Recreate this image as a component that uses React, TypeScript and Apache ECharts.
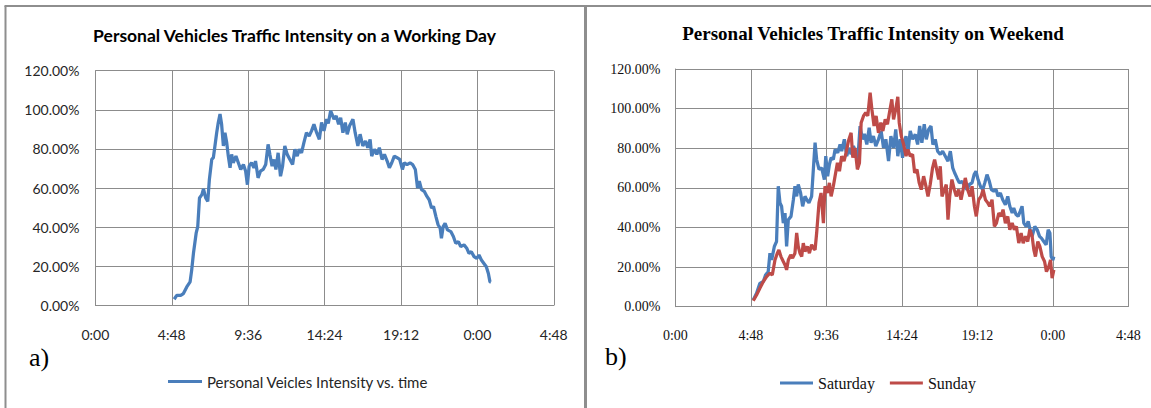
import React, { useEffect, useRef } from "react";
import * as echarts from "echarts";

// ---- Data (hours since 0:00, intensity in %) ----
const workTimes = [
  4.95, 5.11, 5.36, 5.53, 5.74, 5.95, 6.05, 6.16, 6.33, 6.43, 6.54, 6.69, 6.79, 6.93, 7.06, 7.16, 7.31, 7.41,
  7.51, 7.62, 7.72, 7.83, 7.93, 8.04, 8.14, 8.25, 8.35, 8.46, 8.56, 8.66, 8.83, 8.98, 9.13, 9.3, 9.44, 9.55,
  9.66, 9.81, 9.96, 10.06, 10.22, 10.37, 10.54, 10.7, 10.85, 10.96, 11.1, 11.23, 11.34, 11.48, 11.63, 11.76,
  11.9, 12.05, 12.22, 12.39, 12.53, 12.68, 12.81, 12.95, 13.1, 13.26, 13.43, 13.58, 13.73, 13.9, 14.07, 14.21,
  14.36, 14.53, 14.63, 14.78, 14.99, 15.13, 15.28, 15.41, 15.55, 15.7, 15.82, 15.97, 16.18, 16.32, 16.49,
  16.63, 16.8, 16.97, 17.11, 17.26, 17.36, 17.53, 17.68, 17.84, 18.01, 18.16, 18.33, 18.47, 18.62, 18.78,
  18.95, 19.12, 19.29, 19.41, 19.58, 19.77, 19.93, 20.1, 20.24, 20.35, 20.49, 20.66, 20.83, 20.97, 21.12,
  21.24, 21.39, 21.53, 21.66, 21.74, 21.85, 21.97, 22.12, 22.33, 22.49, 22.64, 22.81, 22.95, 23.16, 23.33,
  23.47, 23.62, 23.79, 23.96, 24.1, 24.25, 24.41, 24.56, 24.69, 24.79, 24.85,
];
const workValues = [
  3.1, 5.1, 5.1, 6, 9.4, 12, 18, 26.6, 36.9, 40.3, 54.9, 56.6, 59.5, 54.9, 53.2, 64.3, 74.6, 75.5,
  81.5, 88.3, 93.5, 97.8, 92.6, 81.5, 88.3, 83.2, 76.3, 70.3, 77.2, 72.9, 76.3, 72.9, 69.5, 72, 68.6, 61.7,
  71.2, 72.9, 70.3, 73.8, 65.2, 68.6, 69.5, 72, 82.3, 77.2, 71.2, 74.6, 69.5, 78, 66, 71.2,
  81.5, 77.2, 74.6, 72, 79.8, 76.3, 79.8, 78, 83.2, 88.3, 86.6, 89.2, 92.6, 88.3, 84.9, 93.5,
  89.2, 95.2, 93, 99.5, 95.2, 96.9, 92.6, 96, 88.3, 93.5, 87.5, 91.8, 95.2, 88.3, 81.5,
  87.5, 81.5, 84, 80.6, 84.9, 76.3, 79.8, 77.2, 80.6, 74.6, 77.2, 73.8, 70.3, 72.9, 76.3,
  75.5, 74.6, 69.5, 72.9, 72, 72.9, 72, 69.5, 60, 63.5, 59.2, 58.3, 55.7, 54, 49.7,
  50.6, 45.5, 41.2, 39.5, 34.3, 40.3, 42, 38.6, 37.7, 35.2, 31.7, 32.6, 30, 30.9, 29.2,
  26.6, 27.4, 24.9, 24, 25.7, 23.2, 21.4, 19.7, 16.3, 12, 11.8,
];

const satTimes = [
  4.95, 5.16, 5.37, 5.59, 5.73, 5.9, 6.01, 6.12, 6.29, 6.43, 6.54, 6.65, 6.75, 6.86, 6.97, 7.07, 7.18, 7.35,
  7.5, 7.6, 7.71, 7.81, 7.96, 8.09, 8.24, 8.35, 8.49, 8.66, 8.77, 8.88, 8.98, 9.13, 9.3, 9.47, 9.56, 9.68,
  9.79, 9.9, 10.04, 10.15, 10.32, 10.47, 10.57, 10.74, 10.89, 11.04, 11.17, 11.32, 11.47, 11.59, 11.74, 11.89,
  12.02, 12.17, 12.32, 12.44, 12.59, 12.74, 12.91, 13.08, 13.23, 13.38, 13.55, 13.7, 13.87, 14.01, 14.14,
  14.29, 14.44, 14.51, 14.66, 14.78, 14.93, 15.08, 15.25, 15.4, 15.53, 15.67, 15.82, 15.95, 16.1, 16.25,
  16.37, 16.52, 16.67, 16.84, 16.99, 17.16, 17.33, 17.48, 17.63, 17.75, 17.9, 18.05, 18.22, 18.39, 18.54,
  18.69, 18.86, 18.99, 19.11, 19.24, 19.39, 19.54, 19.67, 19.81, 19.96, 20.09, 20.24, 20.39, 20.51, 20.66,
  20.81, 20.98, 21.13, 21.26, 21.41, 21.51, 21.66, 21.79, 21.92, 22.04, 22.15, 22.3, 22.43, 22.55, 22.68,
  22.85, 23.0, 23.15, 23.27, 23.42, 23.57, 23.7, 23.81, 23.89, 24.0, 24.06,
];
const satValues = [
  3.4, 6.8, 11.8, 12.7, 16, 17.7, 27, 23.6, 30.4, 32.9, 60.8, 52.4, 50.7, 42.2, 47.3, 30.4, 43.9, 45.6,
  54, 60.8, 55.7, 61.7, 57.4, 50.7, 55.7, 54, 52.4, 55.7, 69.3, 82.8, 74.3, 69.3, 70.1, 64.2, 76, 65.9,
  71.8, 75.2, 74.3, 79.4, 77.7, 81.9, 78.5, 84.5, 76, 80.2, 76.9, 81.1, 77.7, 73.5, 91.2, 84.5,
  87.2, 81.9, 90.4, 82.8, 86.1, 81.1, 84.5, 88.7, 80.2, 84.5, 73.5, 86.1, 80.2, 89.5, 76,
  84.5, 75.2, 81.1, 86.1, 77.7, 88.7, 84.5, 87, 81.9, 91.2, 82.8, 92.1, 84.5, 89.5, 91.2,
  81.9, 84.5, 78.5, 76.9, 78.5, 76, 73.5, 78.5, 70.1, 67.6, 65, 62.5, 63.3, 60.8, 59.1,
  61.7, 62.5, 66.7, 68.4, 64.2, 60.8, 59.1, 62.5, 66.7, 63.3, 59.1, 58.3, 59.1, 55.7, 57.4,
  54, 51.5, 55.7, 50.7, 47.3, 49.8, 46.5, 45.6, 48.1, 50.7, 42.2, 40.5, 43.1, 38.9, 35.5,
  40.5, 38.9, 35.5, 34.6, 32.9, 31.3, 38.9, 37.2, 25.3, 23.6, 25.3,
];

const sunTimes = [
  4.95, 5.16, 5.37, 5.59, 5.8, 6.01, 6.16, 6.33, 6.48, 6.58, 6.71, 6.86, 6.97, 7.07, 7.18, 7.33, 7.45, 7.6,
  7.71, 7.81, 7.92, 8.03, 8.13, 8.24, 8.39, 8.52, 8.66, 8.77, 8.88, 8.98, 9.13, 9.26, 9.41, 9.51, 9.66, 9.79,
  9.9, 10.04, 10.15, 10.3, 10.43, 10.57, 10.72, 10.85, 11.0, 11.17, 11.28, 11.42, 11.57, 11.7, 11.81, 11.96,
  12.1, 12.23, 12.38, 12.49, 12.63, 12.76, 12.91, 13.06, 13.19, 13.34, 13.48, 13.61, 13.76, 13.87, 14.01,
  14.14, 14.23, 14.36, 14.51, 14.66, 14.78, 14.93, 15.08, 15.21, 15.36, 15.5, 15.63, 15.78, 15.93, 16.06,
  16.2, 16.35, 16.48, 16.61, 16.74, 16.84, 16.95, 17.1, 17.22, 17.33, 17.44, 17.58, 17.73, 17.86, 18.01,
  18.16, 18.29, 18.43, 18.58, 18.73, 18.86, 19.01, 19.13, 19.28, 19.43, 19.56, 19.71, 19.86, 19.98, 20.13,
  20.28, 20.41, 20.56, 20.71, 20.83, 20.98, 21.13, 21.26, 21.41, 21.55, 21.68, 21.83, 21.98, 22.11, 22.26,
  22.4, 22.53, 22.68, 22.79, 22.89, 23.04, 23.17, 23.32, 23.47, 23.59, 23.74, 23.85, 23.95, 24.06,
];
const sunValues = [
  3, 5.9, 9.3, 12.7, 15.2, 16.9, 16, 23.6, 27, 28.7, 25.3, 22.8, 21.1, 18.6, 23.6, 26.2, 24.5, 27,
  37.2, 30.4, 27, 25.3, 32.1, 27.9, 30.4, 27, 31.3, 29.6, 28.7, 37.2, 52.4, 57.4, 42.2, 60.8, 57.4, 62.5,
  55.7, 60.8, 65.9, 72.6, 68.4, 76, 73.5, 77.7, 83.6, 87.8, 75.2, 80.2, 69.3, 72.6, 92.9, 96.3,
  98, 96.3, 108, 99.7, 91.2, 96.3, 87.8, 92.9, 88.7, 94.6, 92.1, 98, 104.7, 94.6, 99.7,
  106, 92.9, 86.1, 81.9, 76, 79.4, 76, 76.9, 67.6, 69.3, 62.5, 59.1, 65.9, 60.8, 55.7,
  61.7, 70.1, 74.3, 69.3, 64.2, 70.9, 55.7, 59.1, 61.7, 43.9, 55.7, 64.2, 59.1, 55.7, 59.1,
  54, 59.1, 65, 59.1, 55.7, 60.8, 50.7, 45.6, 54, 55.7, 59.1, 54, 52.4, 50.7, 54,
  40.5, 42.2, 47.3, 45.6, 49, 42.2, 45.6, 38.9, 42.2, 38.9, 40.5, 32.1, 37.2, 32.1, 35.5,
  32.9, 38.9, 35.5, 28.7, 25.3, 32.9, 30.4, 25.3, 22.8, 17.7, 20.3, 23.6, 14.4, 18.6,
];

const X_MIN = 0;
const X_MAX = 28.8;
const X_STEP = 4.8;
const Y_MIN = 0;
const Y_MAX = 120;
const Y_STEP = 20;

const BLUE = "#4a7ebb";
const RED = "#be4b48";
const GRID = "#8c8c8c";
const FRAME = "#8e8e8e";
const SANS = "Lato, 'Open Sans', sans-serif";
const SERIF = "'Liberation Serif', 'Times New Roman', serif";

function fmtTime(v: number): string {
  const t = Math.round(v * 60);
  const h = Math.floor(t / 60) % 24;
  const m = t % 60;
  return h + ":" + (m < 10 ? "0" : "") + m;
}

function fmtPct(v: number): string {
  return v.toFixed(2) + "%";
}

function pairs(ts: number[], vs: number[]) {
  return ts.map((t, i) => [t, vs[i]]);
}

export default function App() {
  const ref = useRef<HTMLDivElement>(null);
  useEffect(() => {
    document.body.style.margin = "0";
    if (!ref.current) return;
    const chart = echarts.init(ref.current, null, { renderer: "svg" });
    const fonts = [
      { family: SANS, size: 14, color: "#262626" },
      { family: SERIF, size: 14, color: "#111" },
    ];
    const grids = [
      { left: 95.4, top: 70.7, width: 458.4, height: 234.6 },
      { left: 675.4, top: 69, width: 453, height: 237.7 },
    ];
    const labelStyle = (i: number, fmt: (v: number) => string, margin: number) => ({
      formatter: (v: number) => "{t|" + fmt(v) + "}",
      margin,
      fontFamily: fonts[i].family,
      fontSize: fonts[i].size,
      color: fonts[i].color,
      rich: {
        t: { fontFamily: fonts[i].family, fontSize: fonts[i].size, color: fonts[i].color },
      },
    });
    const option: any = {
      animation: false,
      grid: grids.map((g) => ({ ...g, containLabel: false, outerBoundsMode: "none" })),
      xAxis: [0, 1].map((i) => ({
        type: "value",
        gridIndex: i,
        min: X_MIN,
        max: X_MAX,
        interval: X_STEP,
        axisLine: { show: true, lineStyle: { color: GRID, width: 1 } },
        axisTick: { show: false },
        splitLine: { show: true, lineStyle: { color: GRID, width: 1 } },
        axisLabel: { ...labelStyle(i, fmtTime, 22), showMaxLabel: true, showMinLabel: true },
      })),
      yAxis: [0, 1].map((i) => ({
        type: "value",
        gridIndex: i,
        min: Y_MIN,
        max: Y_MAX,
        interval: Y_STEP,
        axisLine: { show: true, lineStyle: { color: GRID, width: 1 } },
        axisTick: { show: false },
        splitLine: { show: true, lineStyle: { color: GRID, width: 1 } },
        axisLabel: labelStyle(i, fmtPct, i === 0 ? 16 : 15),
      })),
      legend: [
        {
          data: ["Personal Veicles Intensity vs. time"],
          left: 168,
          top: 374,
          padding: 0,
          icon: "rect",
          itemWidth: 34,
          itemHeight: 3,
          textStyle: { fontFamily: SANS, fontSize: 15, color: "#262626" },
        },
        {
          data: ["Saturday", "Sunday"],
          left: 780,
          top: 375,
          padding: 0,
          icon: "rect",
          itemWidth: 33,
          itemHeight: 3,
          itemGap: 15,
          textStyle: { fontFamily: SERIF, fontSize: 16, color: "#111" },
        },
      ],
      series: [
        {
          name: "Personal Veicles Intensity vs. time",
          type: "line",
          xAxisIndex: 0,
          yAxisIndex: 0,
          data: pairs(workTimes, workValues),
          symbol: "none",
          showSymbol: false,
          lineStyle: { color: BLUE, width: 3.25 },
          itemStyle: { color: BLUE },
        },
        {
          name: "Saturday",
          type: "line",
          xAxisIndex: 1,
          yAxisIndex: 1,
          data: pairs(satTimes, satValues),
          symbol: "none",
          showSymbol: false,
          lineStyle: { color: BLUE, width: 3.25 },
          itemStyle: { color: BLUE },
        },
        {
          name: "Sunday",
          type: "line",
          xAxisIndex: 1,
          yAxisIndex: 1,
          data: pairs(sunTimes, sunValues),
          symbol: "none",
          showSymbol: false,
          lineStyle: { color: RED, width: 3.25 },
          itemStyle: { color: RED },
        },
      ],
      graphic: [
        { type: "line", shape: { x1: 4.5, y1: 6, x2: 1151, y2: 6 }, style: { stroke: FRAME, lineWidth: 2 } },
        { type: "line", shape: { x1: 5.5, y1: 6, x2: 5.5, y2: 408 }, style: { stroke: FRAME, lineWidth: 2 } },
        { type: "line", shape: { x1: 585.5, y1: 6, x2: 585.5, y2: 408 }, style: { stroke: FRAME, lineWidth: 3 } },
        {
          type: "text",
          x: 294.5,
          y: 35,
          style: {
            text: "Personal Vehicles Traffic Intensity on a Working Day",
            align: "center",
            verticalAlign: "middle",
            fontFamily: SANS,
            fontWeight: "bold",
            fontSize: 17.5,
            fill: "#000",
          },
        },
        {
          type: "text",
          x: 873,
          y: 33,
          style: {
            text: "Personal Vehicles Traffic Intensity on Weekend",
            align: "center",
            verticalAlign: "middle",
            fontFamily: SERIF,
            fontWeight: "bold",
            fontSize: 19,
            fill: "#000",
          },
        },
        {
          type: "text",
          x: 29,
          y: 357,
          style: { text: "a)", verticalAlign: "middle", fontFamily: SERIF, fontSize: 26, fill: "#000" },
        },
        {
          type: "text",
          x: 605,
          y: 356,
          style: { text: "b)", verticalAlign: "middle", fontFamily: SERIF, fontSize: 26, fill: "#000" },
        },
      ],
    };
    chart.setOption(option);
    return () => chart.dispose();
  }, []);
  return <div ref={ref} style={{ width: 1151, height: 408 }} />;
}
